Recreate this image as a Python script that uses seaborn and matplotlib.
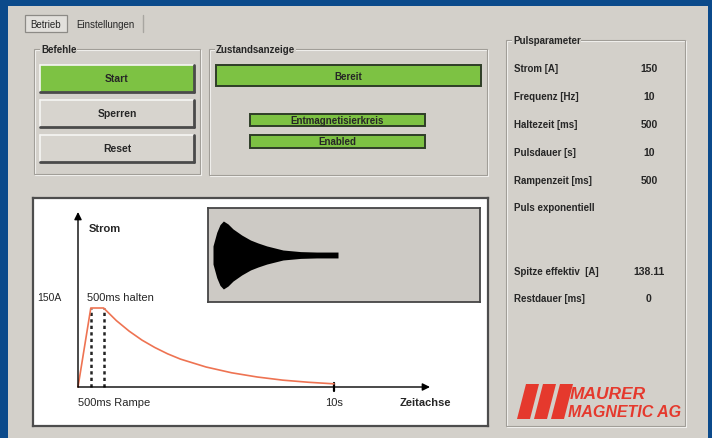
import matplotlib
matplotlib.use("Agg")
import matplotlib.pyplot as plt
from matplotlib.patches import Rectangle, Polygon
import pandas as pd
import seaborn as sns

# Stromverlauf
zeit_s = [0, 0.5, 1.0, 1.5, 2.0, 2.5, 3.0, 3.5, 4.0, 5.0, 6.0, 7.0, 8.0, 9.0, 10.0]
strom_a = [0, 150, 150, 126, 106, 89, 75, 63, 53, 38, 27, 19, 13, 9, 6]
marker_s = [0.5, 1.0]
peak_a = 150

# Huellkurve der Schwingung im Vorschaufenster
huelle_t = [0, 0.3, 0.56, 0.83, 1.2, 1.6, 2.3, 3.0, 3.6, 4.3, 5.6, 7.0, 8.3, 10.0]
huelle_a = [40, 100, 134, 150, 137, 115, 88, 66, 53, 40, 22, 15, 13, 13]

# Pulsparameter
param_labels = ["Strom [A]", "Frequenz [Hz]", "Haltezeit [ms]", "Pulsdauer [s]", "Rampenzeit [ms]"]
param_values = ["150", "10", "500", "10", "500"]
extra_labels = ["Spitze effektiv  [A]", "Restdauer [ms]"]
extra_values = ["138.11", "0"]

sns.set_theme(style="white")
plt.rcParams["font.family"] = ["Liberation Sans Narrow", "Liberation Sans", "DejaVu Sans"]

BLUE = "#0b4a8b"
GRAY = "#d3d0ca"
GREEN = "#7dc243"
RED = "#e5392d"
W, H = 712, 439


def rect(x, y, w, h):
    # pixel box (top-left origin) -> figure fraction
    return [x / W, 1 - (y + h) / H, w / W, h / H]


fig = plt.figure(figsize=(W / 100, H / 100), dpi=100, facecolor=BLUE)
bg = fig.add_axes([0, 0, 1, 1])
bg.set_xlim(0, W)
bg.set_ylim(H, 0)
bg.axis("off")
bg.add_patch(Rectangle((8, 7), 700, 440, facecolor=GRAY, edgecolor="none"))


def groupbox(x, y, w, h, title):
    bg.add_patch(Rectangle((x + 1, y + 1), w, h, fill=False, edgecolor="#f4f3f0", lw=0.8))
    bg.add_patch(Rectangle((x, y), w, h, fill=False, edgecolor="#a19e98", lw=0.8))
    bg.text(x + 7, y, title, fontsize=7, fontweight="bold", va="center", ha="left",
            bbox=dict(facecolor=GRAY, edgecolor="none", pad=0.5))


def button(x, y, w, h, face, label):
    bg.add_patch(Rectangle((x, y), w, h, facecolor=face, edgecolor="none"))
    bg.plot([x, x + w], [y, y], color="#f6f6f4", lw=1.2)
    bg.plot([x, x], [y, y + h], color="#f6f6f4", lw=1.2)
    bg.plot([x, x + w], [y + h, y + h], color="#4a4a4a", lw=2)
    bg.plot([x + w, x + w], [y, y + h], color="#4a4a4a", lw=2)
    bg.text(x + w / 2, y + h / 2, label, fontsize=7.5, fontweight="bold", ha="center", va="center")


def statusbar(x, y, w, h, label):
    bg.add_patch(Rectangle((x, y), w, h, facecolor=GREEN, edgecolor="#2e3d27", lw=1.4))
    bg.text(x + w / 2, y + h / 2, label, fontsize=7, fontweight="bold", ha="center", va="center")


# Reiter
bg.add_patch(Rectangle((25, 16), 42, 17, facecolor="#e2e0dc", edgecolor="#8c8a86", lw=0.9))
bg.text(46, 25, "Betrieb", fontsize=7, ha="center", va="center")
bg.text(105, 25, "Einstellungen", fontsize=7, ha="center", va="center")
bg.plot([143, 143], [16, 33], color="#a8a6a1", lw=1)

# Befehle
groupbox(34, 50, 166, 125, "Befehle")
button(40, 66, 154, 27, GREEN, "Start")
button(40, 101, 154, 27, "#d7d4ce", "Sperren")
button(40, 136, 154, 27, "#d7d4ce", "Reset")

# Zustandsanzeige
groupbox(209, 50, 278, 126, "Zustandsanzeige")
statusbar(216, 66, 265, 21, "Bereit")
statusbar(250, 115, 175, 12, "Entmagnetisierkreis")
statusbar(250, 136, 175, 13, "Enabled")

# Pulsparameter
groupbox(506, 41, 179, 386, "Pulsparameter")
for i, (lab, val) in enumerate(zip(param_labels, param_values)):
    yy = 69 + i * 28
    bg.text(514, yy, lab, fontsize=7, fontweight="bold", va="center")
    bg.text(649, yy, val, fontsize=7.5, fontweight="bold", va="center", ha="center")
bg.text(514, 208, "Puls exponentiell", fontsize=7, fontweight="bold", va="center")
for i, (lab, val) in enumerate(zip(extra_labels, extra_values)):
    yy = 272 + i * 27
    bg.text(514, yy, lab, fontsize=7, fontweight="bold", va="center")
    bg.text(649, yy, val, fontsize=7.5, fontweight="bold", va="center", ha="center")

# Logo
for x0 in (517, 534, 551):
    bg.add_patch(Polygon([(x0, 420), (x0 + 13, 420), (x0 + 22, 385), (x0 + 9, 385)],
                         closed=True, facecolor=RED, edgecolor="none"))
bg.text(570, 395, "MAURER", fontsize=12.5, fontweight="bold", style="italic", color=RED,
        va="center", ha="left")
bg.text(568, 413, "MAGNETIC AG", fontsize=11.5, fontweight="bold", style="italic", color=RED,
        va="center", ha="left")

# Diagramm: Pixel-Layout -> Datenachsen
px_s = 25.6            # Pixel pro Sekunde
px_a = 79 / 150        # Pixel pro Ampere
x0_px, y0_px = 78, 388  # Ursprung

ax = fig.add_axes(rect(33, 199, 455, 228))
ax.set_facecolor("white")
ax.set_xlim((33 - x0_px) / px_s, (488 - x0_px) / px_s)
ax.set_ylim((y0_px - 427) / px_a, (y0_px - 199) / px_a)
for sp in ax.spines.values():
    sp.set_visible(True)
    sp.set_color("#4d4d4d")
    sp.set_linewidth(1.6)
ax.set_xticks([])
ax.set_yticks([])

df = pd.DataFrame({"Zeit": zeit_s, "Strom": strom_a})
sns.lineplot(data=df, x="Zeit", y="Strom", color="#ee7352", lw=1.2, ax=ax, zorder=3)
ax.vlines(marker_s, 0, peak_a, colors="#222222", linestyles=(0, (1.3, 1.3)), lw=1.8, zorder=2)
ax.set_xlabel("")
ax.set_ylabel("")

x_end = (430 - x0_px) / px_s
y_end = (y0_px - 213) / px_a
arrow = dict(arrowstyle="-|>", color="black", lw=1.0, mutation_scale=11, shrinkA=0, shrinkB=0)
ax.annotate("", xy=(x_end, 0), xytext=(0, 0), arrowprops=arrow)
ax.annotate("", xy=(0, y_end), xytext=(0, 0), arrowprops=arrow)
ax.plot([10, 10], [-7, 7], color="black", lw=1.6)

ax.text(0.4, (y0_px - 229) / px_a, "Strom", fontsize=8, fontweight="bold", va="center")
ax.text((37 - x0_px) / px_s, (y0_px - 298) / px_a, "150A", fontsize=7.5, va="center")
ax.text(0.35, (y0_px - 298) / px_a, "500ms halten", fontsize=8, va="center")
ax.text(0, (y0_px - 403) / px_a, "500ms Rampe", fontsize=8, va="center")
ax.text(10, (y0_px - 403) / px_a, "10s", fontsize=8, va="center", ha="center")
ax.text((425 - x0_px) / px_s, (y0_px - 403) / px_a, "Zeitachse", fontsize=8,
        fontweight="bold", va="center", ha="center")

# Vorschaufenster mit Schwingung
ins = fig.add_axes(rect(208, 209, 272, 94))
ins.set_facecolor("#cdcac5")
ins_px_s = 12.5
ins_px_a = 34 / 150
ins.set_xlim((208 - 213) / ins_px_s, (480 - 213) / ins_px_s)
ins.set_ylim(-47 / ins_px_a, 47 / ins_px_a)
for sp in ins.spines.values():
    sp.set_visible(True)
    sp.set_color("#454545")
    sp.set_linewidth(1.3)
ins.set_xticks([])
ins.set_yticks([])
ins.fill_between(huelle_t, [-a for a in huelle_a], huelle_a, color="black", lw=0)

fig.savefig("out.png", dpi=100, facecolor=BLUE)
